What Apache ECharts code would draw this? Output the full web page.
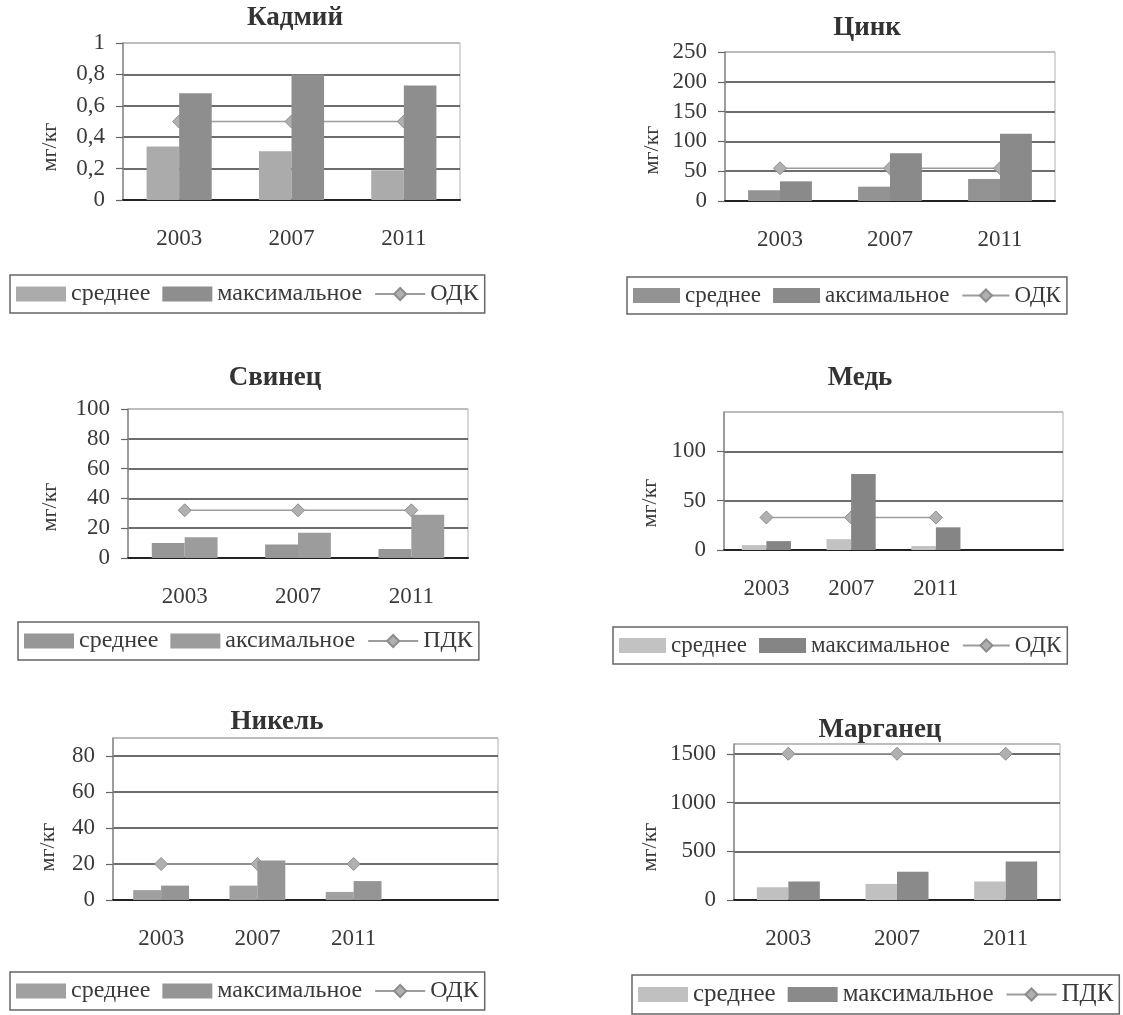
<!DOCTYPE html>
<html><head><meta charset="utf-8">
<script src="https://cdn.jsdelivr.net/npm/echarts@6/dist/echarts.min.js"></script>
<style>
html,body{margin:0;padding:0;background:#fff;width:1123px;height:1015px;overflow:hidden}
.c{position:absolute;left:0;top:0;width:1123px;height:1015px}
</style>
</head><body>
<div id="p0" class="c"></div><div id="p1" class="c"></div><div id="p2" class="c"></div>
<div id="p3" class="c"></div><div id="p4" class="c"></div><div id="p5" class="c"></div>
<script>
// ---- data ----
const years3 = ['2003', '2007', '2011'];
const years4 = ['2003', '2007', '2011', ''];
const unitLabel = 'мг/кг';

const cdTitle = 'Кадмий';
const cdNames = ['среднее', 'максимальное', 'ОДК'];
const cdAvg = [0.34, 0.31, 0.19];
const cdMax = [0.68, 0.80, 0.73];
const cdLimit = [0.5, 0.5, 0.5];

const znTitle = 'Цинк';
const znNames = ['среднее', 'аксимальное', 'ОДК'];
const znAvg = [18, 24, 37];
const znMax = [33, 80, 113];
const znLimit = [55, 55, 55];

const pbTitle = 'Свинец';
const pbNames = ['среднее', 'аксимальное', 'ПДК'];
const pbAvg = [10, 9, 6];
const pbMax = [14, 17, 29];
const pbLimit = [32, 32, 32];

const cuTitle = 'Медь';
const cuNames = ['среднее', 'максимальное', 'ОДК'];
const cuAvg = [5, 11, 4];
const cuMax = [9, 77, 23];
const cuLimit = [33, 33, 33];

const niTitle = 'Никель';
const niNames = ['среднее', 'максимальное', 'ОДК'];
const niAvg = [5.5, 8, 4.5];
const niMax = [8, 22, 10.5];
const niLimit = [20, 20, 20];

const mnTitle = 'Марганец';
const mnNames = ['среднее', 'максимальное', 'ПДК'];
const mnAvg = [130, 165, 190];
const mnMax = [190, 290, 395];
const mnLimit = [1500, 1500, 1500];

const yMaxes = [1, 250, 100, 140, 90, 1600];
const yIntervals = [0.2, 50, 20, 50, 20, 500];

// ---- layout / style ----
const FONT = 'Liberation Serif';
const TXT = '#3a3a3a';

const panels = [
  {title: cdTitle, names: cdNames, cats: years3, avg: cdAvg, max: cdMax, lim: cdLimit,
   grid: [123, 43, 337, 157], tpos: [295, 18], lpos: [10, 275], ypos: [50, 147], lfs: 24, liw: 50,
   colors: ['#ababab', '#8e8e8e'], comma: true},
  {title: znTitle, names: znNames, cats: years3, avg: znAvg, max: znMax, lim: znLimit,
   grid: [725, 52, 330, 149], tpos: [867, 28], lpos: [627, 277], ypos: [652, 150], lfs: 23, liw: 47,
   colors: ['#939393', '#8a8a8a']},
  {title: pbTitle, names: pbNames, cats: years3, avg: pbAvg, max: pbMax, lim: pbLimit,
   grid: [128, 409, 340, 149], tpos: [275, 378], lpos: [18, 622], ypos: [50, 507], lfs: 24, liw: 50,
   colors: ['#979797', '#9c9c9c']},
  {title: cuTitle, names: cuNames, cats: years4, avg: cuAvg, max: cuMax, lim: cuLimit,
   grid: [724, 412, 339, 138], tpos: [860, 378], lpos: [613, 627], ypos: [650, 503], lfs: 23, liw: 47,
   colors: ['#c2c2c2', '#858585']},
  {title: niTitle, names: niNames, cats: years4, avg: niAvg, max: niMax, lim: niLimit,
   grid: [113, 738, 385, 162], tpos: [277, 722], lpos: [10, 972], ypos: [48, 847], lfs: 24, liw: 50,
   colors: ['#a0a0a0', '#959595']},
  {title: mnTitle, names: mnNames, cats: years3, avg: mnAvg, max: mnMax, lim: mnLimit,
   grid: [734, 744, 326, 156], tpos: [880, 730], lpos: [632, 975], ypos: [650, 847], lfs: 25, liw: 50,
   colors: ['#c0c0c0', '#8a8a8a']}
];

panels.forEach(function (p, i) {
  const chart = echarts.init(document.getElementById('p' + i), null, {renderer: 'canvas'});
  const yMax = yMaxes[i], yInt = yIntervals[i];
  const nReal = Math.floor(yMax / yInt + 1e-9) + 1;
  const extra = Math.abs(yMax / yInt - Math.round(yMax / yInt)) > 1e-9;
  const nLines = nReal + (extra ? 1 : 0);
  const splitColors = [];
  for (let k = 0; k < nLines; k++) splitColors.push(k === nLines - 1 ? '#b4b4b4' : '#3c3c3c');
  const axisFont = {fontFamily: FONT, fontSize: 23, color: TXT};
  chart.setOption({
    animation: false,
    grid: {left: p.grid[0], top: p.grid[1], width: p.grid[2], height: p.grid[3],
           show: true, borderColor: '#b0b0b0', borderWidth: 1, containLabel: false},
    legend: {
      left: p.lpos[0], top: p.lpos[1], orient: 'horizontal',
      itemWidth: p.liw, itemHeight: 15, itemGap: 12, padding: [7, 6, 7, 6],
      borderColor: '#666', borderWidth: 1.5, backgroundColor: '#fff',
      textStyle: {fontFamily: FONT, fontSize: p.lfs, color: TXT},
      data: [{name: p.names[0], icon: 'rect'}, {name: p.names[1], icon: 'rect'}, {name: p.names[2]}]
    },
    xAxis: [
      {type: 'category', data: p.cats, boundaryGap: true,
       axisLine: {lineStyle: {color: '#222', width: 2}},
       axisTick: {length: 8, lineStyle: {color: '#333', width: 1.5}},
       axisLabel: Object.assign({margin: 27, interval: 0}, axisFont),
       splitLine: {show: false}},
      {type: 'category', data: p.cats, position: 'bottom', boundaryGap: true,
       axisLine: {show: false},
       axisTick: {inside: true, length: 7, lineStyle: {color: '#333', width: 1.5}},
       axisLabel: {show: false}, splitLine: {show: false}}
    ],
    yAxis: {
      type: 'value', min: 0, max: yMax, interval: yInt,
      axisLine: {show: true, lineStyle: {color: '#8a8a8a', width: 1.5}},
      axisTick: {show: true, length: 7, lineStyle: {color: '#666', width: 1.2}},
      axisLabel: Object.assign({margin: 18, showMaxLabel: !extra,
        formatter: function (v) { return p.comma ? String(v).replace('.', ',') : String(v); }}, axisFont),
      splitLine: {show: true, lineStyle: {color: splitColors, width: 1.5}}
    },
    series: [
      {type: 'bar', name: p.names[0], data: p.avg, xAxisIndex: 0, z: 3,
       barGap: '0%', barCategoryGap: '42%', itemStyle: {color: p.colors[0]}},
      {type: 'bar', name: p.names[1], data: p.max, xAxisIndex: 0, z: 3,
       barGap: '0%', barCategoryGap: '42%', itemStyle: {color: p.colors[1]}},
      {type: 'line', name: p.names[2], data: p.lim, xAxisIndex: 0, z: 2,
       symbol: 'diamond', symbolSize: 13,
       itemStyle: {color: '#b0b0b0', borderColor: '#8c8c8c', borderWidth: 1},
       lineStyle: {color: '#9c9c9c', width: 1.5}}
    ],
    graphic: [
      {type: 'text', x: p.tpos[0], y: p.tpos[1], z: 10,
       style: {text: p.title, fontFamily: FONT, fontWeight: 'bold', fontSize: 27,
               fill: '#333', align: 'center', verticalAlign: 'middle'}},
      {type: 'text', x: p.ypos[0], y: p.ypos[1], rotation: Math.PI / 2, z: 10,
       style: {text: unitLabel, fontFamily: FONT, fontSize: 22,
               fill: TXT, align: 'center', verticalAlign: 'middle'}}
    ]
  });
});
</script>
</body></html>
